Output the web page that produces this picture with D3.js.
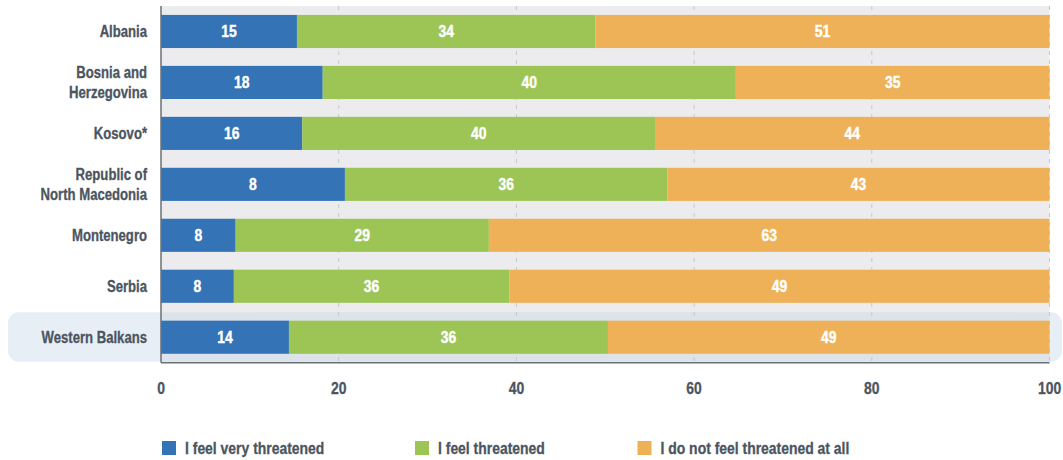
<!DOCTYPE html>
<html><head><meta charset="utf-8">
<script src="https://cdn.jsdelivr.net/npm/d3@7"></script>
<style>
body{margin:0;background:#fff;}
svg{display:block;font-family:"Liberation Sans",Arial,sans-serif;font-weight:bold;}
</style></head><body>
<svg id="chart" width="1063" height="460"></svg>
<script>
const categories = ["Albania", "Bosnia and\nHerzegovina", "Kosovo*", "Republic of\nNorth Macedonia", "Montenegro", "Serbia", "Western Balkans"];
const seriesNames = ["I feel very threatened", "I feel threatened", "I do not feel threatened at all"];
// printed labels
const veryThreatenedLabels = [15, 18, 16, 8, 8, 8, 14];
const threatenedLabels     = [34, 40, 40, 36, 29, 36, 36];
const notThreatenedLabels  = [51, 35, 44, 43, 63, 49, 49];
// bar lengths as drawn in the picture
const veryThreatenedBars = [15.3, 18.2, 15.9, 20.7, 8.4, 8.2, 14.4];
const threatenedBars     = [33.6, 46.5, 39.7, 36.3, 28.5, 31.0, 35.9];
const notThreatenedBars  = [51.1, 35.3, 44.4, 43.0, 63.1, 60.8, 49.7];
const xTicks = [0, 20, 40, 60, 80, 100];
const colors = ["#3473b6", "#9cc556", "#efb157"];

const SX = 0.82; // condensed look
const TXT = "#4b5560";
const svg = d3.select("#chart");
const pLeft = 161, pRight = 1049.5, pTop = 6, pBottom = 362.7;
const x = d3.scaleLinear().domain([0, 100]).range([pLeft, pRight]);
const y = d3.scaleBand().domain(categories).range([pTop, pBottom]).paddingInner(0.35).paddingOuter(0.175);

// plot background
svg.append("rect").attr("x", pLeft).attr("y", pTop).attr("width", pRight - pLeft).attr("height", pBottom - pTop).attr("fill", "#ececee");

// highlight for Western Balkans
const hlCat = categories[categories.length - 1];
const bandStep = y.step();
const hlY = y(hlCat) - (bandStep - y.bandwidth()) / 2 + 0.5;
svg.append("rect").attr("x", 8).attr("y", hlY).attr("width", 1062 - 8).attr("height", pBottom - hlY - 1)
  .attr("rx", 11).attr("fill", "rgba(201,214,231,0.42)");

// gridlines
svg.append("g").selectAll("line").data(xTicks.filter(d => d > 0)).join("line")
  .attr("x1", d => x(d)).attr("x2", d => x(d)).attr("y1", pTop).attr("y2", pBottom)
  .attr("stroke", "#c5c8cc").attr("stroke-width", 1).attr("stroke-dasharray", "4,5");

// stacked bars
const bars = [veryThreatenedBars, threatenedBars, notThreatenedBars];
const labels = [veryThreatenedLabels, threatenedLabels, notThreatenedLabels];
const rows = categories.map((c, i) => {
  let acc = 0;
  return bars.map((b, s) => { const x0 = acc; acc += b[i]; return {cat: c, s, x0, x1: acc, label: labels[s][i]}; });
});
const segs = rows.flat();
svg.append("g").selectAll("rect").data(segs).join("rect")
  .attr("x", d => x(d.x0)).attr("width", d => x(d.x1) - x(d.x0))
  .attr("y", d => y(d.cat)).attr("height", y.bandwidth())
  .attr("fill", d => colors[d.s]);
svg.append("g").selectAll("text").data(segs).join("text")
  .attr("transform", d => `translate(${(x(d.x0) + x(d.x1)) / 2},${y(d.cat) + y.bandwidth() / 2 + 6}) scale(${SX},1)`)
  .attr("text-anchor", "middle").attr("fill", "#fff").attr("stroke", "#fff").attr("stroke-width", 0.4).attr("font-size", 17)
  .text(d => d.label);

// axes lines
svg.append("line").attr("x1", pLeft).attr("x2", pLeft).attr("y1", pTop).attr("y2", pBottom).attr("stroke", "#6b7075").attr("stroke-width", 1.5);
svg.append("line").attr("x1", pLeft).attr("x2", pRight).attr("y1", pBottom).attr("y2", pBottom).attr("stroke", "#6b7075").attr("stroke-width", 1.5);

// tick labels
svg.append("g").selectAll("text").data(xTicks).join("text")
  .attr("transform", d => `translate(${x(d)},394) scale(${SX},1)`).attr("text-anchor", "middle")
  .attr("fill", TXT).attr("stroke", TXT).attr("stroke-width", 0.3).attr("font-size", 17).text(d => d);

// category labels
const catG = svg.append("g").selectAll("text").data(categories).join("text")
  .attr("text-anchor", "end").attr("fill", TXT).attr("stroke", TXT).attr("stroke-width", 0.3).attr("font-size", 16)
  .attr("transform", d => `translate(147,${y(d) + y.bandwidth() / 2}) scale(${SX},1)`);
catG.each(function(d) {
  const lines = d.split("\n");
  const t = d3.select(this);
  lines.forEach((ln, i) => {
    t.append("tspan").attr("x", 0).attr("y", 6 + (i - (lines.length - 1) / 2) * 20).text(ln);
  });
});

// legend
const legX = [162, 415, 637.5];
const lg = svg.append("g").selectAll("g").data(seriesNames).join("g")
  .attr("transform", (d, i) => `translate(${legX[i]},441)`);
lg.append("rect").attr("width", 14).attr("height", 14).attr("fill", (d, i) => colors[i]);
lg.append("text").attr("transform", `translate(23,13) scale(${SX},1)`).attr("fill", TXT).attr("stroke", TXT).attr("stroke-width", 0.3).attr("font-size", 17).text(d => d);
</script>
</body></html>
